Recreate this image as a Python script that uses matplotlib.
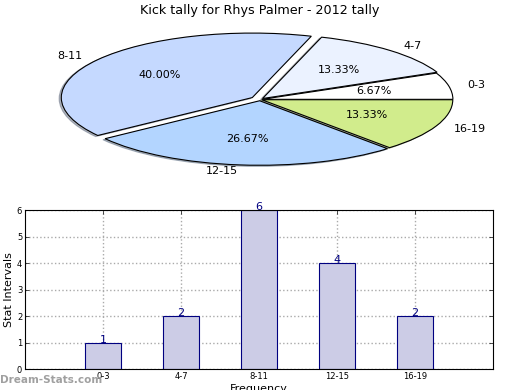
import matplotlib
matplotlib.use("Agg")
import matplotlib.pyplot as plt

categories = ["0-3", "4-7", "8-11", "12-15", "16-19"]
counts = [1, 2, 6, 4, 2]
pie_colors = ["#ffffff", "#ebf2ff", "#c5d9ff", "#b3d5ff", "#d1ec8c"]
explode = [0.01, 0.02, 0.05, 0.02, 0.01]
yticks = [0, 1, 2, 3, 4, 5, 6]

fig = plt.figure(figsize=(5.2, 3.9), dpi=100)

# Pie (squashed ellipse)
axp = fig.add_axes([0.0409, 0.5382, 0.9183, 0.4135])
wedges, texts, autotexts = axp.pie(
    counts, labels=categories, colors=pie_colors, explode=explode,
    autopct="%1.2f%%", shadow=dict(ox=-0.008, oy=-0.012, shade=0.5),
    startangle=0,
    wedgeprops=dict(edgecolor="black", linewidth=0.8),
    textprops=dict(fontsize=8))
axp.set_aspect("auto")
axp.set_xlim(-1.25, 1.25)
axp.set_ylim(-1.25, 1.25)
fig.text(0.5, 0.972, "Kick tally for Rhys Palmer - 2012 tally",
         ha="center", va="center", fontsize=9.2)

# Bar chart
axb = fig.add_axes([0.048, 0.0538, 0.9, 0.4077])
x = list(range(len(categories)))
axb.bar(x, counts, width=0.46, color="#cccce6", edgecolor="#000080",
        linewidth=0.8, zorder=2)
for xi, v in zip(x, counts):
    axb.text(xi, v - 0.08, str(v), ha="center", va="bottom", color="#000080",
             fontsize=8, zorder=3)
axb.set_xlim(-1, 5)
axb.set_ylim(0, 6)
axb.set_xticks(x)
axb.set_xticklabels(categories, fontsize=6)
axb.set_yticks(yticks)
axb.set_yticklabels([str(t) for t in yticks], fontsize=6)
axb.tick_params(direction="in", length=3, width=0.5, top=True, right=True,
                pad=2)
axb.grid(True, linestyle=":", color="#aaaaaa", linewidth=1, zorder=0)
axb.set_axisbelow(True)
axb.set_ylabel("Stat Intervals", fontsize=8, labelpad=2)
axb.set_xlabel("Frequency", fontsize=8, labelpad=2)

fig.text(0.0, 0.025, "Dream-Stats.com", color="#a0a0a0", fontsize=7.5,
         fontweight="bold", ha="left", va="center")

fig.savefig("out.png", dpi=100)
